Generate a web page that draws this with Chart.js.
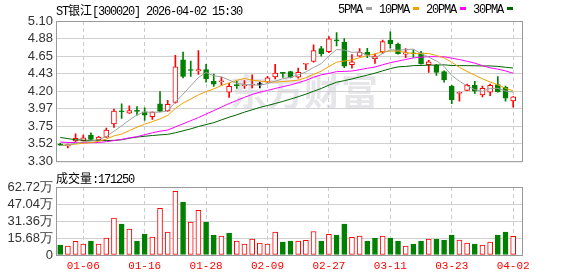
<!DOCTYPE html>
<html>
<head>
<meta charset="utf-8">
<script src="https://cdn.jsdelivr.net/npm/chart.js@4.4.1/dist/chart.umd.min.js"></script>
<style>
  body { margin: 0; background: #fff; }
  #wrap { position: relative; width: 578px; height: 276px; overflow: hidden; }
  canvas { position: absolute; left: 0; }
  #price { top: 0; }
  #vol { top: 172px; }
  .txt { position: absolute; font-family: "Liberation Mono", monospace; font-size: 12px; line-height: 14px;
         letter-spacing: -1.2px; color: #000; white-space: nowrap; }
  .cjk { font-family: "Noto Sans CJK SC"; letter-spacing: 0; }
  .key { display: inline-block; width: 6px; height: 3px; margin: 0 7px 2px 4px; vertical-align: middle; }
</style>
</head>
<body>
<div id="wrap">
  <canvas id="price" width="578" height="172"></canvas>
  <canvas id="vol" width="578" height="104"></canvas>
  <div class="txt" style="left:56px;top:3px">ST<span class="cjk">银江</span>[300020] 2026-04-02 15:30</div>
  <div class="txt" id="legend" style="left:338px;top:3px"></div>
  <div class="txt" id="volLabel" style="left:56px;top:171px"></div>
</div>
<script>
// trading days
const dates = ['12-30','12-31','01-05','01-06','01-07','01-08','01-09','01-12','01-13','01-14',
  '01-15','01-16','01-19','01-20','01-21','01-22','01-23','01-26','01-27','01-28',
  '01-29','01-30','02-02','02-03','02-04','02-05','02-06','02-09','02-10','02-11',
  '02-12','02-13','02-24','02-25','02-26','02-27','03-02','03-03','03-04','03-05',
  '03-06','03-09','03-10','03-11','03-12','03-13','03-16','03-17','03-18','03-19',
  '03-20','03-23','03-24','03-25','03-26','03-27','03-30','03-31','04-01','04-02'];
const tickDates = ['01-06','01-16','01-28','02-09','02-27','03-11','03-23','04-02'];

const opens = [3.52,3.50,3.56,3.565,3.635,3.578,3.61,3.78,3.94,3.918,
  3.95,3.935,3.873,4.035,3.945,4.055,4.60,4.47,4.46,4.475,
  4.325,4.32,4.185,4.28,4.27,4.275,4.285,4.315,4.383,4.435,
  4.45,4.38,4.545,4.58,4.745,4.705,4.85,4.825,4.54,4.65,
  4.70,4.615,4.705,4.855,4.805,4.675,4.69,4.69,4.54,4.53,
  4.45,4.265,4.17,4.21,4.275,4.15,4.185,4.285,4.25,4.075];
const highs = [3.53,3.52,3.65,3.635,3.665,3.62,3.725,3.97,4.035,4.01,
  4.00,3.985,3.935,4.195,4.08,4.66,4.70,4.585,4.72,4.545,
  4.42,4.38,4.30,4.325,4.335,4.41,4.315,4.39,4.545,4.44,
  4.455,4.495,4.555,4.795,4.775,4.90,4.95,4.875,4.67,4.745,
  4.75,4.68,4.855,4.96,4.815,4.745,4.73,4.71,4.595,4.545,
  4.46,4.275,4.19,4.29,4.325,4.265,4.29,4.385,4.265,4.13];
const lows = [3.50,3.47,3.55,3.56,3.575,3.57,3.605,3.735,3.85,3.915,
  3.89,3.825,3.835,3.935,3.94,4.045,4.37,4.39,4.415,4.315,
  4.26,4.275,4.12,4.235,4.235,4.24,4.24,4.31,4.355,4.375,
  4.37,4.365,4.475,4.57,4.65,4.695,4.78,4.50,4.495,4.645,
  4.63,4.555,4.68,4.75,4.675,4.63,4.635,4.545,4.44,4.40,
  4.315,4.04,4.07,4.205,4.17,4.125,4.14,4.185,4.07,3.995];
const closes = [3.505,3.51,3.595,3.60,3.58,3.61,3.70,3.945,3.935,3.95,
  3.94,3.89,3.93,3.94,4.03,4.51,4.39,4.465,4.475,4.36,
  4.29,4.325,4.26,4.27,4.275,4.28,4.285,4.37,4.43,4.428,
  4.375,4.44,4.55,4.72,4.68,4.87,4.845,4.52,4.575,4.70,
  4.66,4.65,4.835,4.805,4.68,4.695,4.68,4.55,4.575,4.44,
  4.345,4.09,4.185,4.275,4.20,4.235,4.275,4.19,4.11,4.125];
const prevClose = 3.53;

const ma5 = [3.50,3.51,3.53,3.55,3.558,3.578,3.616,3.685,3.754,3.828,
  3.894,3.932,3.929,3.93,3.946,4.06,4.16,4.267,4.374,4.44,
  4.396,4.383,4.342,4.301,4.284,4.283,4.274,4.296,4.328,4.359,
  4.377,4.409,4.445,4.503,4.553,4.652,4.733,4.727,4.698,4.702,
  4.66,4.621,4.684,4.73,4.726,4.733,4.739,4.682,4.636,4.588,
  4.518,4.40,4.327,4.267,4.219,4.197,4.234,4.235,4.202,4.187];
const ma10 = [3.50,3.51,3.52,3.53,3.54,3.555,3.585,3.625,3.648,3.693,
  3.737,3.775,3.808,3.843,3.888,3.978,4.047,4.098,4.152,4.193,
  4.228,4.272,4.305,4.338,4.362,4.340,4.329,4.319,4.315,4.322,
  4.330,4.342,4.371,4.416,4.456,4.515,4.571,4.586,4.601,4.628,
  4.656,4.677,4.706,4.714,4.714,4.697,4.680,4.683,4.683,4.657,
  4.626,4.570,4.505,4.452,4.404,4.358,4.317,4.281,4.235,4.203];
const ma20 = [3.545,3.54,3.54,3.538,3.538,3.54,3.55,3.565,3.58,3.60,
  3.615,3.64,3.665,3.685,3.70,3.74,3.78,3.82,3.86,3.905,
  3.95,3.995,4.04,4.08,4.12,4.157,4.186,4.209,4.233,4.257,
  4.279,4.307,4.338,4.377,4.409,4.427,4.450,4.453,4.458,4.475,
  4.493,4.509,4.538,4.565,4.585,4.606,4.626,4.635,4.642,4.642,
  4.641,4.623,4.605,4.583,4.559,4.527,4.499,4.482,4.459,4.430];
const ma30 = [3.605,3.59,3.575,3.57,3.567,3.566,3.566,3.567,3.575,3.595,
  3.61,3.62,3.63,3.638,3.645,3.665,3.69,3.715,3.745,3.77,
  3.795,3.83,3.865,3.895,3.93,3.96,3.99,4.015,4.04,4.068,
  4.097,4.128,4.160,4.198,4.234,4.276,4.314,4.334,4.356,4.381,
  4.405,4.430,4.460,4.489,4.511,4.517,4.527,4.529,4.533,4.535,
  4.537,4.529,4.527,4.527,4.525,4.523,4.523,4.517,4.506,4.496];

// volume in 万
const volumes = [9.2,8.3,12.5,10.1,12.9,10.1,15.6,34.0,28.5,23.9,
  12.9,19.3,16.5,43.1,21.1,58.7,48.7,30.3,41.3,30.3,
  18.4,17.4,20.2,12.9,10.1,14.7,11.0,10.1,21.1,11.9,
  12.9,12.9,13.5,21.7,12.9,19.0,18.4,28.5,16.2,17.4,
  12.9,15.6,17.4,15.6,12.9,8.3,10.1,12.9,14.7,14.7,
  13.8,18.4,13.8,11.0,10.1,9.2,11.9,18.4,21.1,17.125];

const priceTicks = [3.30,3.525,3.75,3.975,4.20,4.425,4.65,4.875,5.10];
const priceTickLabels = ['3.30','3.52','3.75','3.97','4.20','4.43','4.65','4.88','5.10'];
const volTicks = [0,15.68,31.36,47.04,62.72];
const volTickLabels = ['0','15.68万','31.36万','47.04万','62.72万'];

const maNames = ['5PMA','10PMA','20PMA','30PMA'];
const maColors = ['#a0a0a0','#f0a000','#ff00ff','#006400'];
const maSeries = [ma5, ma10, ma20, ma30];

const RED = '#ff0000', GREEN = '#008000';
const idx = closes.map((c, i) => i);
const candleColor = idx.map(i => closes[i] > opens[i] ? RED : closes[i] < opens[i] ? GREEN : '#000000');
const bodyFill = idx.map(i => closes[i] > opens[i] ? '#ffffff' : candleColor[i]);
const volUp = idx.map(i => closes[i] >= (i ? closes[i - 1] : prevClose));

// legend + volume caption
document.getElementById('legend').innerHTML = maNames
  .map((n, k) => n + '<span class="key" style="background:' + maColors[k] + '"></span>').join('');
document.getElementById('volLabel').innerHTML =
  '<span class="cjk">成交量</span>:' + Math.round(volumes[volumes.length - 1] * 10000);

const framePlugin = {
  id: 'frame',
  afterDraw(chart) {
    const { ctx, chartArea: a } = chart;
    ctx.save();
    ctx.strokeStyle = '#999999';
    ctx.lineWidth = 1;
    ctx.strokeRect(a.left + 0.5, a.top + 0.5, a.right - a.left, a.bottom - a.top);
    ctx.restore();
  }
};

const watermark = {
  id: 'watermark',
  beforeDraw(chart) {
    const ctx = chart.ctx;
    ctx.save();
    ctx.fillStyle = '#e6e6ea';
    ctx.font = 'bold 37px "Noto Sans CJK SC"';
    ctx.textBaseline = 'middle';
    ctx.fillText('东方财富', 230, 92);
    ctx.restore();
  }
};

function xAxis(showTicks) {
  return {
    type: 'linear',
    min: -0.55,
    max: 60.15,
    offset: false,
    afterBuildTicks: s => { s.ticks = tickDates.map(d => ({ value: dates.indexOf(d) })); },
    afterFit: s => { s.height = showTicks ? 21 : 0; },
    grid: { offset: false, drawTicks: false, color: '#cccccc', lineWidth: 1 },
    border: { display: false, dash: [4, 3] },
    ticks: {
      display: showTicks, padding: 4, color: RED, autoSkip: false, maxRotation: 0,
      font: { family: 'Liberation Mono', size: 11 },
      callback: v => dates[v]
    }
  };
}

function yAxis(min, max, ticks, labels) {
  return {
    min: min,
    max: max,
    afterBuildTicks: s => { s.ticks = ticks.map(v => ({ value: v })); },
    afterFit: s => { s.width = 56; },
    grid: { drawTicks: false, color: '#d0d0d0' },
    border: { display: false },
    ticks: {
      padding: 3, color: '#333333', autoSkip: false,
      font: { family: 'Liberation Sans', size: 13 },
      callback: (v, i) => labels[i]
    }
  };
}

const xy = arr => arr.map((v, i) => ({ x: i, y: v }));

new Chart(document.getElementById('price'), {
  type: 'bar',
  data: {
    datasets: [
      ...maSeries.map((s, k) => ({
        type: 'line', label: maNames[k], data: xy(s), borderColor: maColors[k],
        borderWidth: 1, pointRadius: 0, tension: 0, order: 0
      })),
      {
        label: 'body', data: idx.map(i => ({ x: i, y: [opens[i], closes[i]] })),
        backgroundColor: bodyFill, borderColor: candleColor, borderWidth: 1,
        borderSkipped: false, barThickness: 5, minBarLength: 1, grouped: false, order: 1
      },
      {
        label: 'wick', data: idx.map(i => ({ x: i, y: [lows[i], highs[i]] })),
        backgroundColor: candleColor, barThickness: 1, grouped: false, order: 2
      }
    ]
  },
  options: {
    responsive: false,
    animation: false,
    events: [],
    layout: { padding: { top: 21, right: 56, bottom: 6, left: 0 } },
    plugins: { legend: { display: false }, tooltip: { enabled: false } },
    scales: {
      x: xAxis(false),
      y: yAxis(3.30, 5.10, priceTicks, priceTickLabels)
    }
  },
  plugins: [watermark, framePlugin]
});

new Chart(document.getElementById('vol'), {
  type: 'bar',
  data: {
    datasets: [{
      label: '成交量', data: xy(volumes),
      backgroundColor: volUp.map(u => u ? '#ffffff' : GREEN),
      borderColor: volUp.map(u => u ? RED : GREEN),
      borderWidth: 1, borderSkipped: false, barThickness: 5, grouped: false
    }]
  },
  options: {
    responsive: false,
    animation: false,
    events: [],
    layout: { padding: { top: 15, right: 56, bottom: 0, left: 0 } },
    plugins: { legend: { display: false }, tooltip: { enabled: false } },
    scales: {
      x: xAxis(true),
      y: yAxis(0, 62.72, volTicks, volTickLabels)
    }
  },
  plugins: [framePlugin]
});
</script>
</body>
</html>
